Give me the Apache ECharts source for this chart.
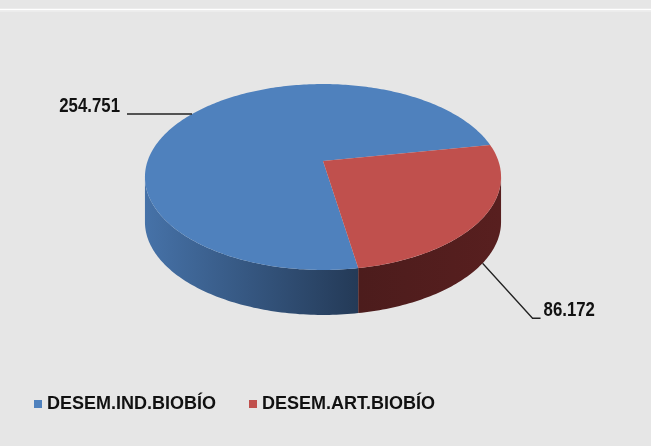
<!DOCTYPE html>
<html><head><meta charset="utf-8">
<script src="https://cdn.jsdelivr.net/npm/echarts@6/dist/echarts.min.js"></script>
<style>html,body{margin:0;padding:0;background:#e6e6e6}#c{width:651px;height:446px}</style>
</head><body><div id="c"></div>
<script>
// ---- data ----
const categories = ['DESEM.IND.BIOBÍO', 'DESEM.ART.BIOBÍO'];
const values = [254751, 86172];
const colors = ['#4f81bd', '#c0504d'];
const sideColors = [['#4672a8', '#243a57'], ['#4c1c1c', '#581f1f']];

// ---- geometry (style) ----
const X0 = 323, Y0 = 161, A = 175.4, B = 90.2, P = 0.172, H = 45, START = 80.4;
const FAMILY = '"Liberation Sans", Arial, sans-serif';
const FONT = 'bold 20px ' + FAMILY;
const total = values.reduce((s, v) => s + v, 0);

function fmt(v) { return String(v).replace(/\B(?=(\d{3})+(?!\d))/g, '.'); }
function proj(deg, dy) {
  const t = deg * Math.PI / 180, u = Math.cos(t), v = Math.sin(t), w = 1 - P * v;
  return [X0 + A * u / w, Y0 + B * v / w + (dy || 0)];
}
function arc(a0, a1, dy) {
  const pts = []; const n = Math.max(2, Math.ceil(Math.abs(a1 - a0)));
  for (let k = 0; k <= n; k++) pts.push(proj(a0 + (a1 - a0) * k / n, dy));
  return pts;
}
function sliceRange(i) {
  let a = START;
  for (let k = 0; k < i; k++) a += values[k] / total * 360;
  return [a, a + values[i] / total * 360];
}
const VIS0 = Math.asin(P) * 180 / Math.PI, VIS1 = 180 - VIS0;

const labelOffsets = [
  { base: 'top', pts: [[-66, 0]], align: 'right', dx: -7 },
  { base: 'bottom', pts: [[50, 55], [58, 55]], align: 'left', dx: 3 }
];

function makeRender(i) {
  return function (params, api) {
    const [a, b] = sliceRange(i);
    const children = [];
    [0, 360].forEach(off => {
      const s = Math.max(a, VIS0 + off), e = Math.min(b, VIS1 + off);
      if (e > s) {
        const top = arc(s, e, 0), bot = arc(e, s, H);
        children.push({
          type: 'polygon', shape: { points: top.concat(bot) },
          style: {
            fill: new echarts.graphic.LinearGradient(0, 0, 1, 0, [
              { offset: 0, color: sideColors[i][0] }, { offset: 1, color: sideColors[i][1] }
            ])
          }
        });
      }
    });
    children.push({
      type: 'polygon', shape: { points: [[X0, Y0]].concat(arc(a, b, 0)) },
      style: { fill: colors[i] }
    });
    const mid = (a + b) / 2;
    const L = labelOffsets[i];
    const anchor = proj(mid, L.base === 'bottom' ? H : 0);
    const line = [anchor].concat(L.pts.map(p => [anchor[0] + p[0], anchor[1] + p[1]]));
    if (L.base === 'top') line[1] = [127, anchor[1]];
    const end = line[line.length - 1];
    children.push({ type: 'polyline', shape: { points: line }, style: { stroke: '#222', lineWidth: 1.3, fill: null } });
    children.push({
      type: 'text', x: end[0] + L.dx, y: end[1] + 2, scaleX: 0.84,
      style: {
        x: 0, y: 0, text: fmt(values[i]), font: FONT, fill: '#111',
        align: L.align, verticalAlign: 'bottom', textAlign: L.align, textVerticalAlign: 'bottom'
      }
    });
    return { type: 'group', children };
  };
}

const chart = echarts.init(document.getElementById('c'));
chart.setOption({
  animation: false,
  backgroundColor: '#e6e6e6',
  color: colors,
  graphic: [
    { type: 'line', shape: { x1: 0, y1: 9.5, x2: 651, y2: 9.5 }, style: { stroke: '#ffffff', lineWidth: 1.5 } },
    { type: 'line', shape: { x1: 0, y1: 11, x2: 651, y2: 11 }, style: { stroke: '#f1f1f1', lineWidth: 1 } }
  ],
  legend: {
    data: categories, left: 29, top: 390, icon: 'rect', itemWidth: 8, itemHeight: 8, itemGap: 33,
    textStyle: { fontSize: 18, fontWeight: 'bold', color: '#111', fontFamily: FAMILY }
  },
  series: categories.map((name, i) => ({
    type: 'custom', name, coordinateSystem: 'none',
    itemStyle: { color: colors[i] },
    data: [[values[i]]],
    renderItem: makeRender(i)
  }))
});
</script></body></html>
